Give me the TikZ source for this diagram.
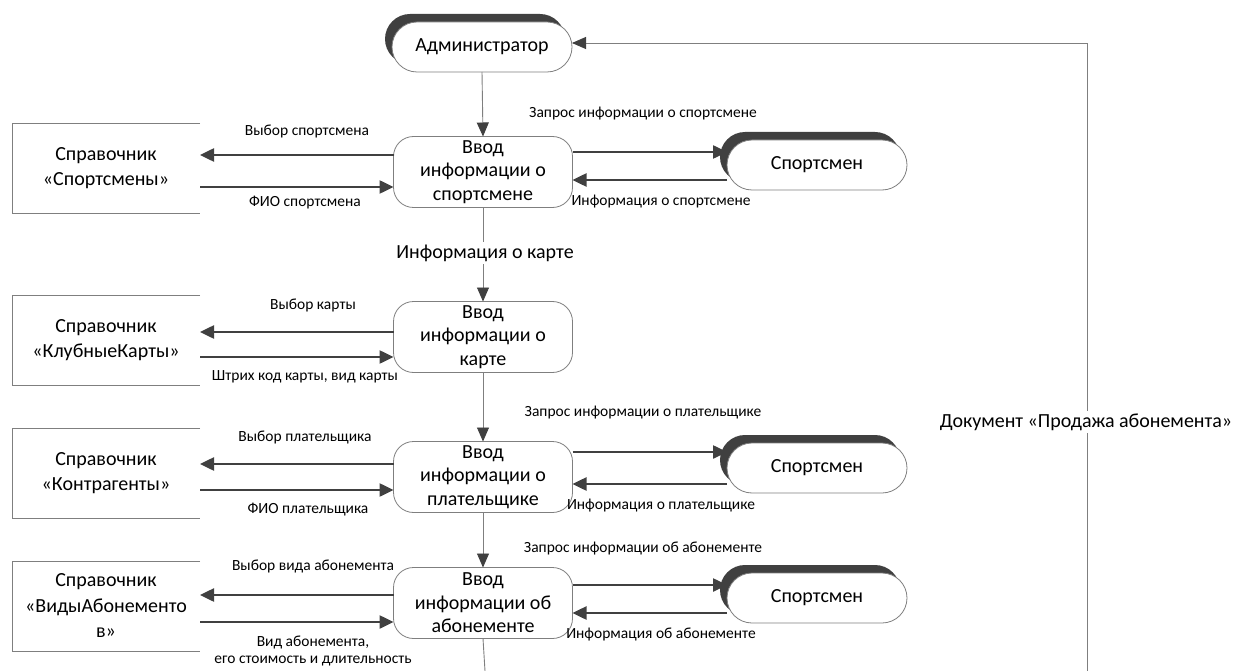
\documentclass[tikz,border=0pt]{standalone}
\usepackage{fontspec}
\setmainfont{Carlito}
\usetikzlibrary{arrows.meta,shadows}
\definecolor{ink}{HTML}{404040}
\definecolor{edge}{HTML}{7F7F7F}
\begin{document}
\begin{tikzpicture}[x=1pt,y=-1pt,
  every node/.style={inner sep=0pt, outer sep=0pt},
  big/.style={font=\fontsize{20}{23.5}\selectfont},
  small/.style={font=\fontsize{15.5}{17.5}\selectfont},
  proc/.style={draw=edge, line width=0.8pt, fill=white, rounded corners=20pt,
    minimum width=179pt, minimum height=71pt, align=center, big},
  actor/.style={draw=edge, line width=0.8pt, fill=white, rounded corners=25pt,
    minimum width=180pt, minimum height=50pt, big,
    general shadow={fill=ink, shadow xshift=-7pt, shadow yshift=8pt}},
  store/.style={minimum width=188pt, minimum height=90pt, align=center,
    font=\fontsize{20}{25.5}\selectfont},
  storeline/.style={draw=edge, line width=0.9pt},
  flow/.style={draw=ink, line width=2.5pt, -{Triangle[length=14pt,width=13pt]}},
  link/.style={draw=edge, line width=0.9pt},
  linka/.style={link, -{Triangle[length=14pt,width=12pt,color=ink,fill=ink]}},
  lbl/.style={small, align=center},
  onwire/.style={fill=white, inner sep=3pt, font=\fontsize{20}{23}\selectfont},
]
\useasboundingbox (0,0) rectangle (1237,671);

% external entities
\node[actor] (adm) at (482,47) {Администратор};
\node[actor] (a1) at (817,165) {Спортсмен};
\node[actor] (a2) at (817,468) {Спортсмен};
\node[actor] (a3) at (817,598) {Спортсмен};

% processes
\node[proc] (p1) at (483,172) {Ввод\\информации о\\спортсмене};
\node[proc] (p2) at (483,337) {Ввод\\информации о\\карте};
\node[proc] (p3) at (483,477) {Ввод\\информации о\\плательщике};
\node[proc] (p4) at (483,603) {Ввод\\информации об\\абонементе};

% data stores (open on the right)
\node[store] (s1) at (106,168) {Справочник\\«Спортсмены»};
\node[store] (s2) at (106,340) {Справочник\\«КлубныеКарты»};
\node[store] (s3) at (106,473) {Справочник\\«Контрагенты»};
\node[store] (s4) at (106,606) {Справочник\\«ВидыАбонементо\\в»};
\foreach \s in {s1,s2,s3,s4}
  \draw[storeline] (\s.north east) -- (\s.north west) -- (\s.south west) -- (\s.south east);

% main vertical chain
\draw[linka] (adm.south) -- (p1.north);
\draw[linka] (p1.south) -- (p2.north);
\node[onwire] (lcard) at (485,253) {Информация о карте};
\draw[linka] (p2.south) -- (p3.north);
\draw[linka] (p3.south) -- (p4.north);
\coordinate (bottom) at (485,671);
\draw[link] (p4.south) -- (bottom);

% return document to the administrator
\coordinate (rb) at (1087,671);
\coordinate (rt) at (1087,43);
\draw[linka] (rb) -- (rt) -- (adm.east |- rt);
\node[onwire] (ldoc) at (1086,422) {Документ «Продажа абонемента»};

% flows: athlete
\draw[flow] (p1.west |- 0,155) -- (s1.east |- 0,155);
\draw[flow] (s1.east |- 0,187) -- (p1.west |- 0,187);
\draw[flow] (p1.east |- 0,152) -- (a1.west |- 0,152);
\draw[flow] (a1.west |- 0,180) -- (p1.east |- 0,180);
\node[lbl] (l11) at (307,131) {Выбор спортсмена};
\node[lbl] (l12) at (305,203) {ФИО спортсмена};
\node[lbl] (l13) at (643,114) {Запрос информации о спортсмене};
\node[lbl] (l14) at (661,202) {Информация о спортсмене};

% flows: card
\draw[flow] (p2.west |- 0,332) -- (s2.east |- 0,332);
\draw[flow] (s2.east |- 0,357) -- (p2.west |- 0,357);
\node[lbl] (l21) at (313,305) {Выбор карты};
\node[lbl] (l22) at (305,377) {Штрих код карты, вид карты};

% flows: payer
\draw[flow] (p3.west |- 0,464) -- (s3.east |- 0,464);
\draw[flow] (s3.east |- 0,490) -- (p3.west |- 0,490);
\draw[flow] (p3.east |- 0,452) -- (a2.west |- 0,452);
\draw[flow] (a2.west |- 0,484) -- (p3.east |- 0,484);
\node[lbl] (l31) at (305,437) {Выбор плательщика};
\node[lbl] (l32) at (308,510) {ФИО плательщика};
\node[lbl] (l33) at (643,413) {Запрос информации о плательщике};
\node[lbl] (l34) at (661,506) {Информация о плательщике};

% flows: subscription
\draw[flow] (p4.west |- 0,595) -- (s4.east |- 0,595);
\draw[flow] (s4.east |- 0,622) -- (p4.west |- 0,622);
\draw[flow] (p4.east |- 0,585) -- (a3.west |- 0,585);
\draw[flow] (a3.west |- 0,613) -- (p4.east |- 0,613);
\node[lbl] (l41) at (313,566) {Выбор вида абонемента};
\node[lbl] (l42) at (313,651) {Вид абонемента,\\его стоимость и длительность};
\node[lbl] (l43) at (643,548) {Запрос информации об абонементе};
\node[lbl] (l44) at (661,634) {Информация об абонементе};
\end{tikzpicture}
\end{document}
